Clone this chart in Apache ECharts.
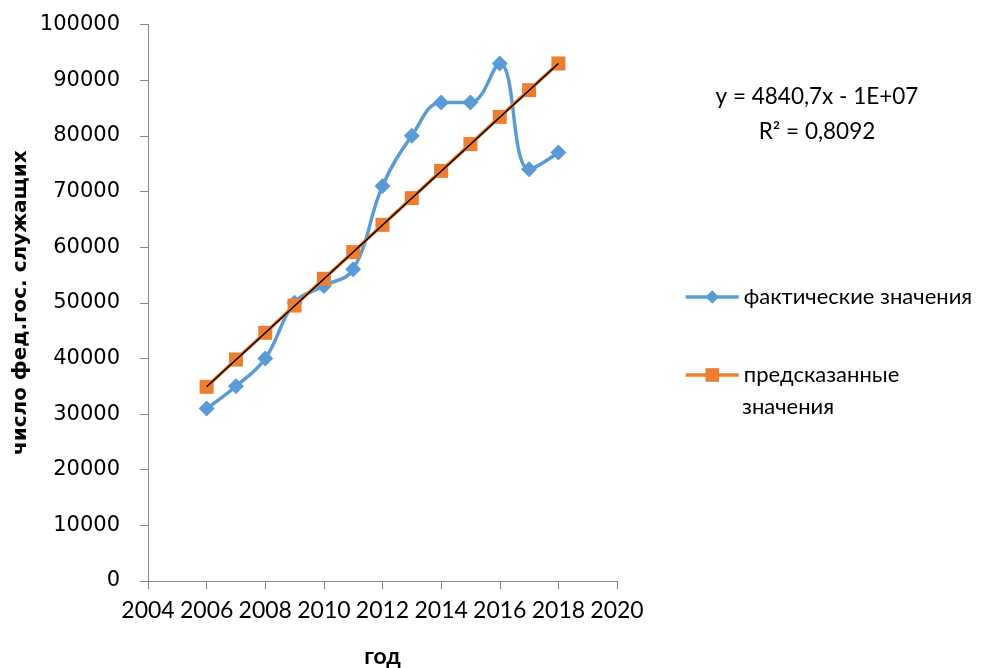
<!DOCTYPE html>
<html>
<head>
<meta charset="utf-8">
<script src="https://cdn.jsdelivr.net/npm/echarts@6/dist/echarts.min.js"></script>
<style>
  html, body { margin: 0; padding: 0; background: #fff; }
  #chart { width: 997px; height: 668px; }
</style>
</head>
<body>
<div id="chart"></div>
<script>
// Годы наблюдений
const years = [2006, 2007, 2008, 2009, 2010, 2011, 2012, 2013, 2014, 2015, 2016, 2017, 2018];
// Фактическая численность федеральных гос. служащих
const actualValues = [31000, 35000, 40000, 50000, 53000, 56000, 71000, 80000, 86000, 86000, 93000, 74000, 77000];
// Значения, предсказанные линейной моделью
const predictedValues = [34900, 39800, 44600, 49500, 54300, 59100, 64000, 68800, 73700, 78500, 83400, 88200, 93000];
// Подписи осей и уравнение тренда
const xTickLabels = ['2004', '2006', '2008', '2010', '2012', '2014', '2016', '2018', '2020'];
const equationText = 'y = 4840,7x - 1E+07';
const r2Text = 'R² = 0,8092';

const nameActual = 'фактические значения';
const namePredicted = 'предсказанные значения';

const pairs = (xs, ys) => xs.map((x, i) => [x, ys[i]]);
const trendData = [
  [years[0], predictedValues[0]],
  [years[years.length - 1], predictedValues[predictedValues.length - 1]]
];

const axisColor = '#868686';
const labelFont = 'Lato';
const numFont = '"DejaVu Sans", sans-serif';

const chart = echarts.init(document.getElementById('chart'), null, { renderer: 'canvas' });
chart.setOption({
  animation: false,
  backgroundColor: '#ffffff',
  grid: {
    left: 148, right: 380, top: 24.5, bottom: 87,
    containLabel: false,
    outerBoundsMode: 'none'
  },
  xAxis: {
    type: 'value',
    min: 2004,
    max: 2020,
    interval: 2,
    name: 'год',
    nameLocation: 'middle',
    nameGap: 64,
    nameTextStyle: { fontFamily: labelFont, fontWeight: 'bold', fontSize: 23, color: '#000' },
    axisLine: { show: true, lineStyle: { color: axisColor, width: 1 } },
    axisTick: { show: true, inside: false, length: 8, lineStyle: { color: axisColor } },
    axisLabel: {
      margin: 18,
      fontFamily: labelFont,
      fontSize: 23,
      color: '#000',
      formatter: (v) => xTickLabels[Math.round((v - 2004) / 2)] ?? String(v)
    },
    splitLine: { show: false }
  },
  yAxis: {
    type: 'value',
    min: 0,
    max: 100000,
    interval: 10000,
    name: 'число фед.гос. служащих',
    nameLocation: 'middle',
    nameRotate: 90,
    nameGap: 117,
    nameTextStyle: { fontFamily: numFont, fontWeight: 'bold', fontSize: 20, color: '#000' },
    axisLine: { show: true, lineStyle: { color: axisColor, width: 1 } },
    axisTick: { show: true, inside: false, length: 8, lineStyle: { color: axisColor } },
    axisLabel: {
      margin: 28,
      fontFamily: numFont,
      fontSize: 21,
      color: '#000',
      formatter: (v) => String(v)
    },
    splitLine: { show: false }
  },
  legend: {
    orient: 'vertical',
    left: 679,
    top: 280,
    itemWidth: 53,
    itemHeight: 17,
    itemGap: 54,
    data: [nameActual, namePredicted],
    formatter: (name) => name === namePredicted ? 'предсказанные' : name,
    lineStyle: { width: 3.5 },
    textStyle: { fontFamily: labelFont, fontSize: 22, color: '#000', lineHeight: 24 }
  },
  graphic: [
    {
      type: 'text', left: 742, top: 396,
      style: { text: 'значения', font: '22px Lato', fill: '#000' }
    },
    {
      type: 'text', x: 817, y: 97,
      style: { text: equationText, font: '22.5px Lato', fill: '#000', align: 'center', verticalAlign: 'middle' }
    },
    {
      type: 'text', x: 817, y: 132,
      style: { text: r2Text, font: '22.5px Lato', fill: '#000', align: 'center', verticalAlign: 'middle' }
    }
  ],
  series: [
    {
      name: nameActual,
      type: 'line',
      data: pairs(years, actualValues),
      smooth: 0.4,
      symbol: 'diamond',
      symbolSize: 16,
      itemStyle: { color: '#5B9BD5' },
      lineStyle: { color: '#5B9BD5', width: 3.5 },
      z: 2
    },
    {
      name: namePredicted,
      type: 'line',
      data: pairs(years, predictedValues),
      symbol: 'rect',
      symbolSize: 14,
      itemStyle: { color: '#ED7D31' },
      lineStyle: { color: '#ED7D31', width: 3.5 },
      z: 3
    },
    {
      name: 'trend',
      type: 'line',
      data: trendData,
      symbol: 'none',
      lineStyle: { color: '#000', width: 1.5 },
      z: 4,
      silent: true
    }
  ]
});
</script>
</body>
</html>
